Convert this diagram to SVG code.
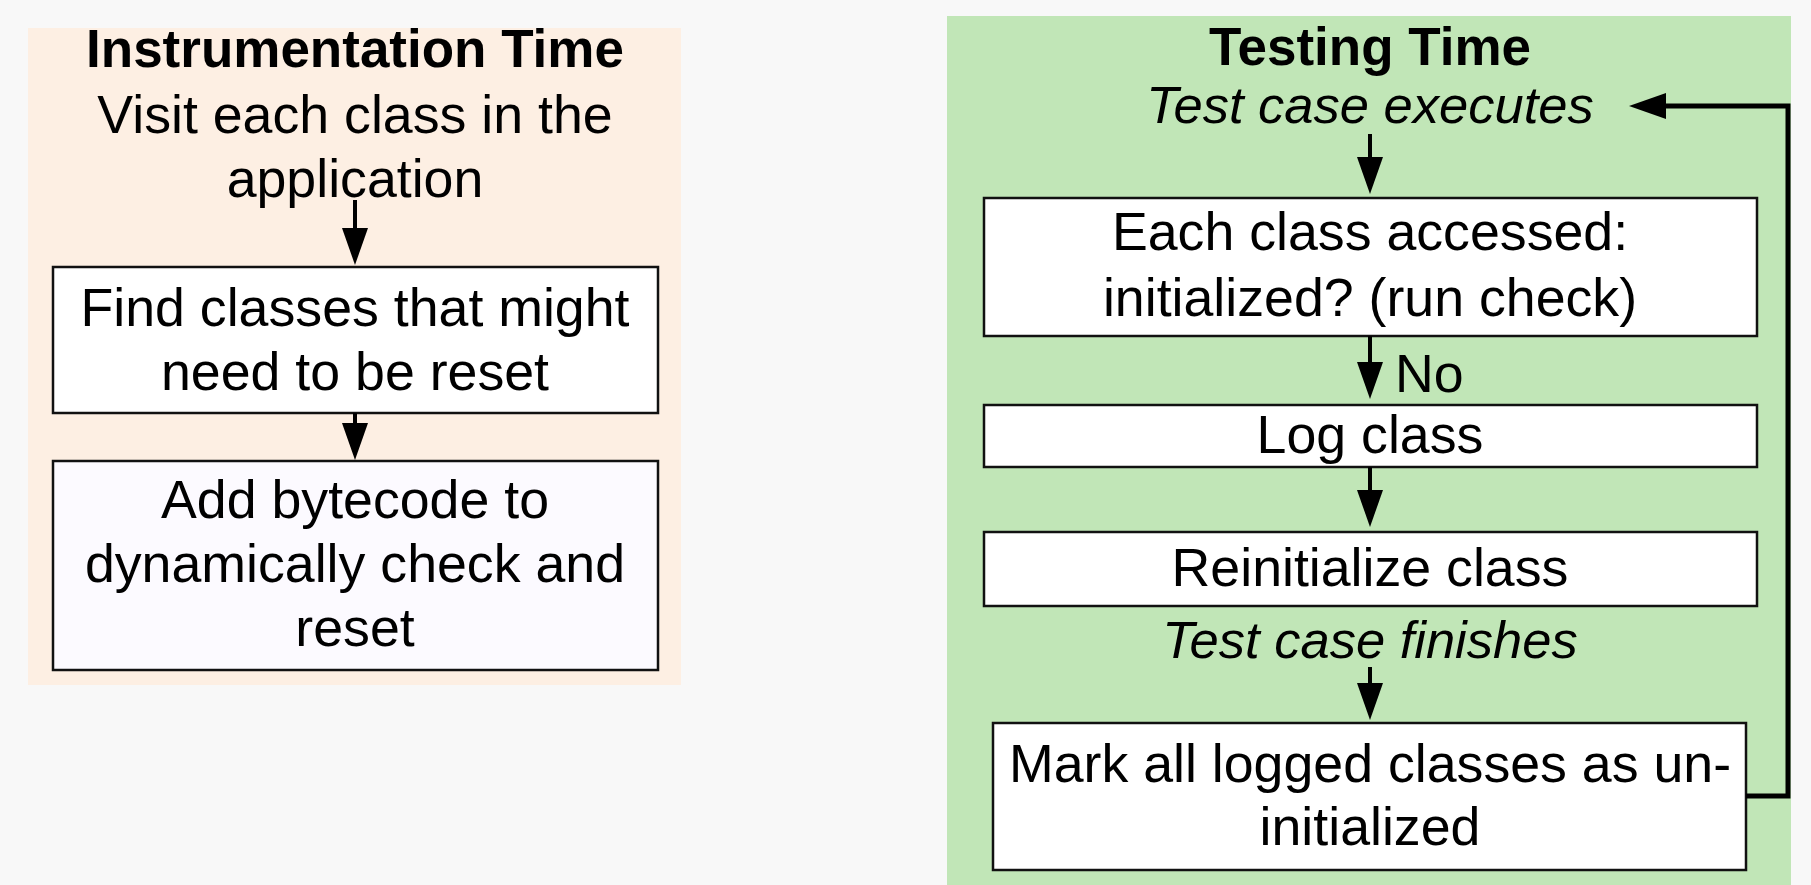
<svg xmlns="http://www.w3.org/2000/svg" width="1811" height="885" viewBox="0 0 1811 885">
<style>
  text { font-family: "Liberation Sans", Arial, sans-serif; font-size: 53.7px; fill: #000; text-anchor: middle; }
  .title { font-weight: bold; font-size: 53px; }
  .ev { font-style: italic; font-size: 52.5px; }
  .box { fill: #ffffff; stroke: #111; stroke-width: 2.5; }
  .conn { stroke: #000; stroke-width: 4; fill: none; }
</style>
<defs>
  <marker id="ah" markerUnits="userSpaceOnUse" markerWidth="37" markerHeight="26" refX="0" refY="13" orient="auto" overflow="visible">
    <path d="M0,0 L37,13 L0,26 Z" fill="#000"/>
  </marker>
</defs>
<rect x="0" y="0" width="1811" height="885" fill="#f8f8f8"/>

<g id="instrumentation-panel">
  <rect x="28" y="28" width="653" height="657" fill="#fdefe3"/>
  <text class="title" x="355" y="67">Instrumentation Time</text>
  <text x="355" y="133">Visit each class in the</text>
  <text x="355" y="197">application</text>
</g>
<g id="find-classes">
  <rect class="box" x="53" y="267" width="605" height="146"/>
  <text x="355" y="326">Find classes that might</text>
  <text x="355" y="390">need to be reset</text>
</g>
<g id="add-bytecode">
  <rect class="box" x="53" y="461" width="605" height="209" style="fill:#fcfaff"/>
  <text x="355" y="518">Add bytecode to</text>
  <text x="355" y="582">dynamically check and</text>
  <text x="355" y="646">reset</text>
</g>

<g id="testing-panel">
  <rect x="947" y="16" width="844" height="880" fill="#c1e6b7"/>
  <text class="title" x="1370" y="65">Testing Time</text>
  <text class="ev" x="1370" y="123">Test case executes</text>
  <text class="ev" x="1370" y="658">Test case finishes</text>
</g>
<g id="each-class">
  <rect class="box" x="984" y="198" width="773" height="138"/>
  <text x="1370" y="250">Each class accessed:</text>
  <text x="1370" y="316">initialized? (run check)</text>
</g>
<g id="log-class">
  <rect class="box" x="984" y="405" width="773" height="62"/>
  <text x="1370" y="453">Log class</text>
</g>
<g id="reinitialize">
  <rect class="box" x="984" y="532" width="773" height="74"/>
  <text x="1370" y="586">Reinitialize class</text>
</g>
<g id="mark-logged">
  <rect class="box" x="993" y="723" width="753" height="147"/>
  <text x="1370" y="782">Mark all logged classes as un-</text>
  <text x="1370" y="845">initialized</text>
</g>

<g id="connectors">
  <line class="conn" x1="355" y1="200" x2="355" y2="228" marker-end="url(#ah)"/>
  <line class="conn" x1="355" y1="413" x2="355" y2="423" marker-end="url(#ah)"/>
  <line class="conn" x1="1370" y1="134" x2="1370" y2="157" marker-end="url(#ah)"/>
  <line class="conn" x1="1370" y1="336" x2="1370" y2="362" marker-end="url(#ah)"/>
  <text x="1395" y="392" style="text-anchor:start">No</text>
  <line class="conn" x1="1370" y1="467" x2="1370" y2="490" marker-end="url(#ah)"/>
  <line class="conn" x1="1370" y1="667" x2="1370" y2="683" marker-end="url(#ah)"/>
  <path class="conn" style="stroke-width:5" d="M1746,796 H1788 V106 H1666" marker-end="url(#ah)"/>
</g>
</svg>
